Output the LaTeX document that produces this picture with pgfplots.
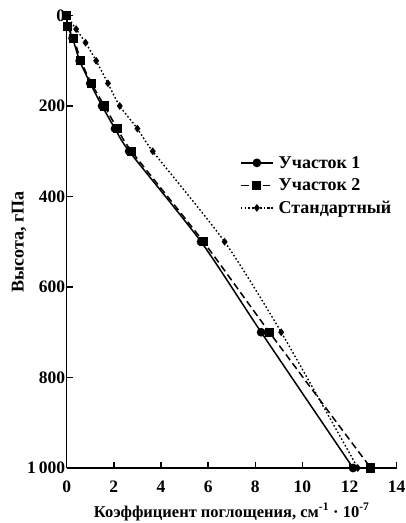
\documentclass[border=0pt]{standalone}
\usepackage{fontspec}
\setmainfont{Liberation Serif}
\usepackage{pgfplots}
\pgfplotsset{compat=1.18}

\begin{document}
\begin{tikzpicture}
\begin{axis}[
  scale only axis,
  width=330pt, height=452.5pt,
  xmin=0, xmax=14, ymin=0, ymax=1000,
  y dir=reverse,
  axis x line=bottom, axis y line=left,
  axis line style={-, line width=1.4pt},
  tick align=inside,
  major tick length=6pt,
  tick style={line width=1.4pt, black},
  xtick={0,2,...,14},
  ytick={0,200,...,1000},
  yticklabels={0,200,400,600,800,1\,000},
  /pgf/number format/assume math mode=true,
  ticklabel style={font=\bfseries\fontsize{17.5}{17.5}\selectfont},
  yticklabel style={xshift=2pt},
  xticklabel style={yshift=-9pt},
  xlabel={Коэффициент поглощения, см\textsuperscript{-1} · 10\textsuperscript{-7}},
  ylabel={Высота, гПа},
  xlabel style={font=\bfseries\fontsize{16.5}{16.5}\selectfont, yshift=-4pt},
  ylabel style={font=\bfseries\fontsize{18}{18}\selectfont, yshift=-6pt},
  legend style={draw=none, fill=none, inner sep=0pt, at={(0.525,0.694)}, anchor=north west,
    font=\bfseries\fontsize{18}{18}\selectfont, row sep=5pt, column sep=3pt},
  legend cell align=left,
  legend image code/.code={
    \draw[mark repeat=2, mark phase=2, #1]
      plot coordinates {(0pt,0pt) (16pt,0pt) (32pt,0pt)};},
]
\addplot[black, line width=1.5pt, smooth, tension=0.4, mark=*, mark size=3.6pt] coordinates {
  (0,0) (0.05,25) (0.25,50) (0.55,100) (1.0,150) (1.5,200) (2.05,250)
  (2.65,300) (5.7,500) (8.25,700) (12.15,1000)};
\addplot[black, line width=1.5pt, smooth, tension=0.4, dash pattern=on 7pt off 4pt,
  mark=square*, mark size=3.8pt, mark options={solid}] coordinates {
  (0,0) (0.05,25) (0.3,50) (0.6,100) (1.05,150) (1.6,200) (2.15,250)
  (2.75,300) (5.8,500) (8.6,700) (12.9,1000)};
\addplot[black, line width=1.4pt, smooth, tension=0.4, dash pattern=on 1.6pt off 2.2pt,
  mark=diamond*, mark size=2.8pt, mark options={solid}] coordinates {
  (0,0) (0.4,30) (0.8,60) (1.25,100) (1.75,150) (2.25,200) (3.0,250)
  (3.65,300) (6.7,500) (9.1,700) (12.35,1000)};
\legend{Участок 1, Участок 2, Стандартный}
\coordinate (tl) at (axis cs:0,0);
\coordinate (br) at (axis cs:14,1000);
\end{axis}
\pgfresetboundingbox
\path[use as bounding box] ([xshift=-66.7pt,yshift=15.5pt]tl) rectangle ([xshift=9pt,yshift=-55pt]br);
\end{tikzpicture}
\end{document}
